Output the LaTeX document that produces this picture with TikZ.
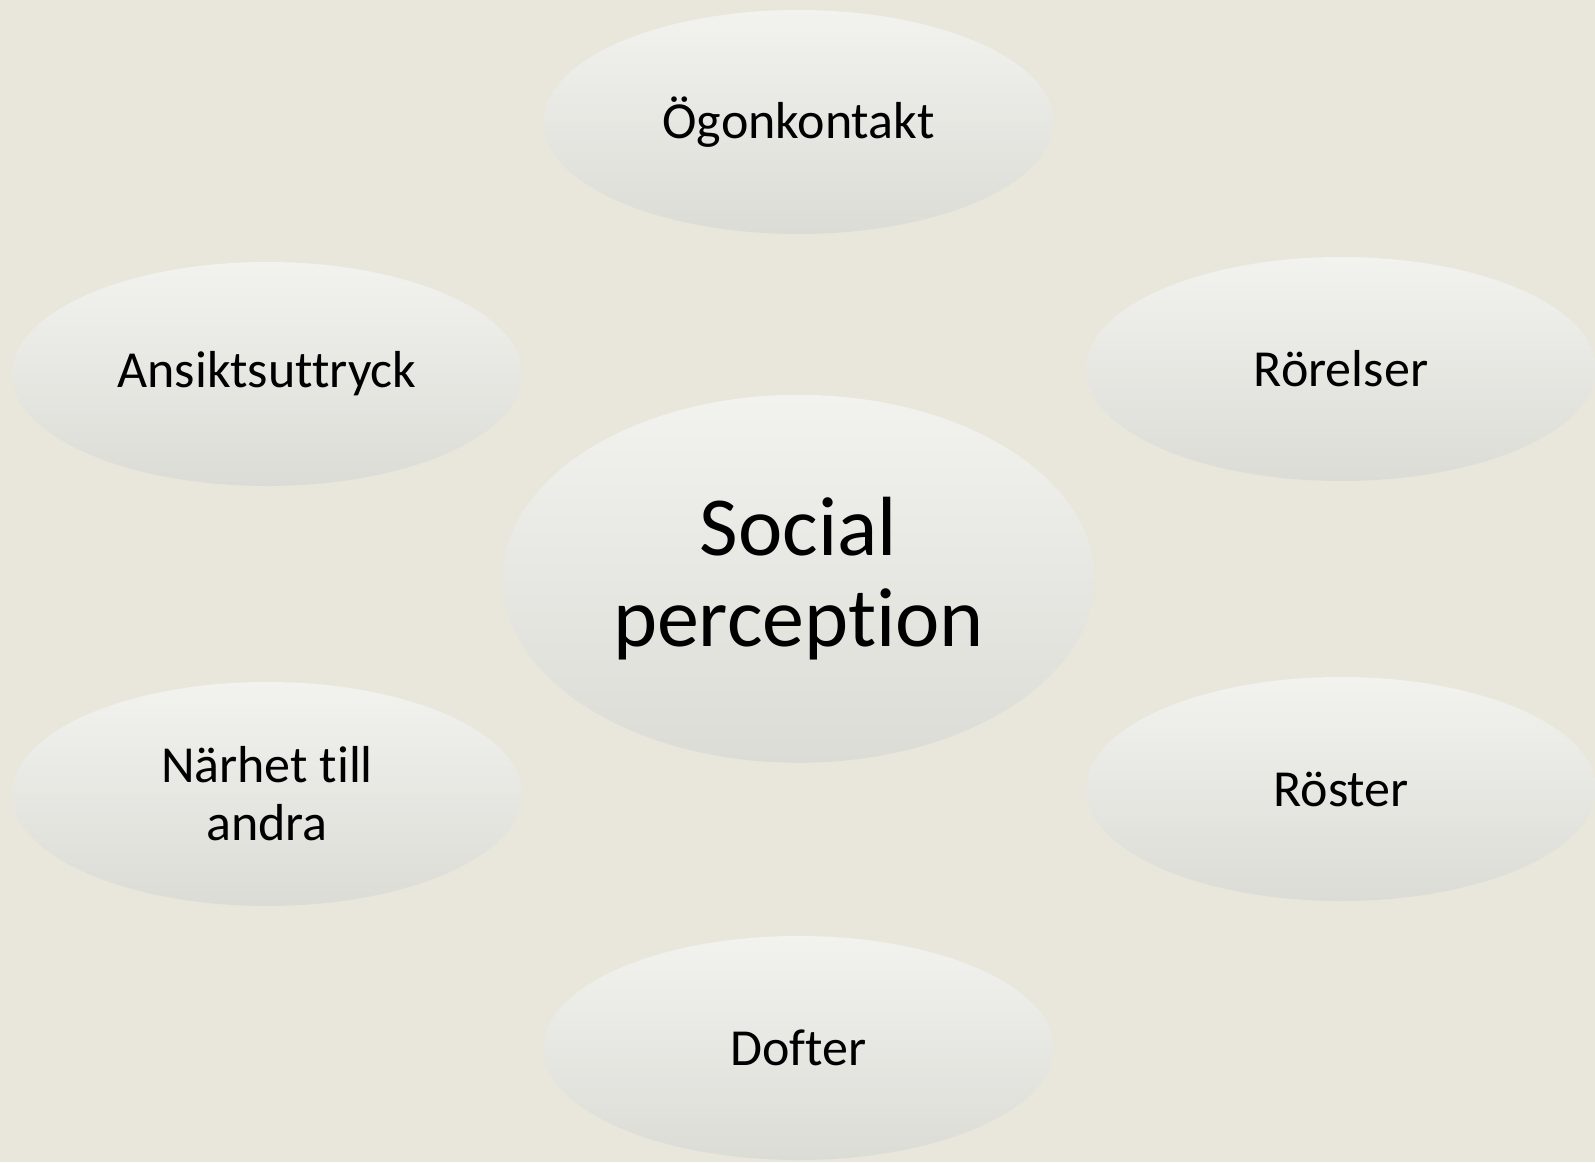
\documentclass[tikz,border=0pt]{standalone}
\usepackage{fontspec}
\setmainfont{Carlito}[Ligatures=NoCommon]
\usetikzlibrary{shapes.geometric}
\definecolor{paper}{HTML}{E9E7DC}
\definecolor{blobtop}{HTML}{F2F2EE}
\definecolor{blobbot}{HTML}{DCDCD7}
\tikzset{
  blob/.style={ellipse, top color=blobtop, bottom color=blobbot, draw=none,
    minimum width=510pt, minimum height=224pt, inner sep=0pt, align=center,
    font=\fontsize{52}{58}\selectfont},
  hub/.style={blob, minimum width=592pt, minimum height=368pt,
    font=\fontsize{84}{91}\selectfont}
}
\begin{document}
\begin{tikzpicture}[x=1pt,y=-1pt]
  \fill[paper] (0,0) rectangle (1595,1162);
  \useasboundingbox (0,0) rectangle (1595,1162);

  \draw (798.5,578.8) node[hub] (social) {Social\\perception};

  \draw (798.5,122) node[blob] (ogon) {Ögonkontakt};
  \draw (267,374) node[blob] (ansikt) {Ansiktsuttryck};
  \draw (1341,369) node[blob] (rorelse) {Rörelser};
  \draw (267,794) node[blob] (narhet) {Närhet till\\andra};
  \draw (1341,789) node[blob] (roster) {Röster};
  \draw (798.5,1048) node[blob] (dofter) {Dofter};
\end{tikzpicture}
\end{document}
